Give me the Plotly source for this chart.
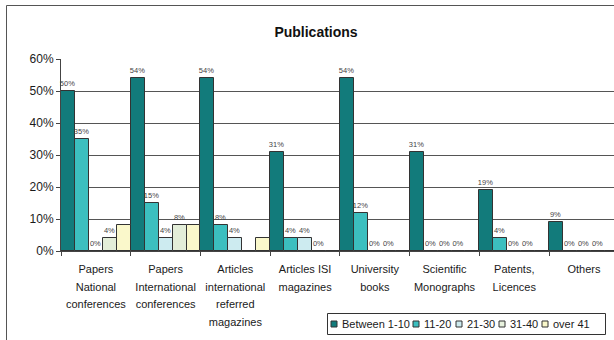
import plotly.graph_objects as go

# ---------------- data ----------------
CATEGORIES = [
    "Papers\nNational\nconferences",
    "Papers\nInternational\nconferences",
    "Articles\ninternational\nreferred\nmagazines",
    "Articles ISI\nmagazines",
    "University\nbooks",
    "Scientific\nMonographs",
    "Patents,\nLicences",
    "Others",
]
SERIES_NAMES = ["Between 1-10", "11-20", "21-30", "31-40", "over 41"]
V_1_10 = [50, 54, 54, 31, 54, 31, 19, 9]
V_11_20 = [35, 15, 8, 4, 12, 0, 4, 0]
V_21_30 = [0, 4, 4, 4, 0, 0, 0, 0]
V_31_40 = [4, 8, 0, 0, 0, 0, 0, 0]
V_OVER_41 = [8, 8, 4, 0, 0, 0, 0, 0]
# which value labels are printed in the original (1 = shown)
SHOW_1_10 = [1, 1, 1, 1, 1, 1, 1, 1]
SHOW_11_20 = [1, 1, 1, 1, 1, 1, 1, 1]
SHOW_21_30 = [1, 1, 1, 1, 1, 1, 1, 1]
SHOW_31_40 = [1, 1, 0, 1, 1, 1, 1, 1]
SHOW_OVER_41 = [0, 0, 0, 0, 0, 0, 0, 0]
Y_TICKS = [0, 10, 20, 30, 40, 50, 60]
Y_TICK_LABELS = ["0%", "10%", "20%", "30%", "40%", "50%", "60%"]
TITLE = "Publications"

# ---------------- styles ----------------
COLORS = ["#127B7B", "#3CBFBF", "#CDEBF0", "#E8F2DE", "#FAF8CB"]
OUTLINE = "#333333"
FONT = "Liberation Sans, Arial, sans-serif"

W, H = 614, 340
ML, MR, MT, MB = 61, 0, 59, 89
PW, PH = W - ML - MR, H - MT - MB


def px(x):
    return (x - ML) / PW


def py(y):
    return (H - MB - y) / PH


series_values = [V_1_10, V_11_20, V_21_30, V_31_40, V_OVER_41]
series_show = [SHOW_1_10, SHOW_11_20, SHOW_21_30, SHOW_31_40, SHOW_OVER_41]
label_font = dict(size=7.5, color="#444444", family=FONT)

fig = go.Figure()
for i, (name, vals, show) in enumerate(zip(SERIES_NAMES, series_values, series_show)):
    marker = dict(color=COLORS[i], line=dict(color=OUTLINE, width=1))
    if i == 3:
        marker["pattern"] = dict(shape=".", fgcolor="#D3E4C3", bgcolor="#EEF5E7",
                                 size=2, solidity=0.4, fillmode="replace")
    fig.add_trace(go.Bar(
        name=name,
        x=CATEGORIES,
        y=vals,
        marker=marker,
        text=[f"{v}%" if s else "" for v, s in zip(vals, show)],
        textposition="outside",
        textfont=label_font,
        outsidetextfont=label_font,
        constraintext="none",
        cliponaxis=False,
        showlegend=False,
    ))

tick_text = ["<br>".join(f"<span style='font-size:11px'>{ln}</span>" for ln in c.split("\n"))
             for c in CATEGORIES]

fig.update_layout(
    width=W, height=H,
    margin=dict(l=ML, r=MR, t=MT, b=MB, pad=0),
    paper_bgcolor="white", plot_bgcolor="white",
    barmode="group", bargap=0, bargroupgap=0,
    showlegend=False,
    font=dict(family=FONT, color="#1a1a1a"),
    title=dict(text=f"<b>{TITLE}</b>", font=dict(size=14, color="#111", family=FONT),
               x=316 / W, xanchor="center", y=1 - 32 / H, yanchor="middle",
               xref="container", yref="container"),
)
fig.update_xaxes(
    type="category", range=[-0.5, 7.43],
    tickmode="array", tickvals=CATEGORIES, ticktext=tick_text,
    tickson="boundaries", ticks="outside", ticklen=4, tickcolor="#444",
    showline=True, linecolor="#444", linewidth=1,
    showgrid=False, tickangle=0, ticklabelstandoff=5,
    tickfont=dict(size=13.5, color="#1a1a1a", family=FONT),
)
fig.update_yaxes(
    range=[0, 60], tickmode="array", tickvals=Y_TICKS, ticktext=Y_TICK_LABELS,
    ticks="outside", ticklen=4, tickcolor="#444",
    showline=True, linecolor="#444", linewidth=1,
    showgrid=True, gridcolor="#555", gridwidth=1, zeroline=False,
    tickfont=dict(size=12, color="#1a1a1a", family=FONT),
)

shapes = []
annotations = []
# outer chart frame
shapes.append(dict(type="rect", xref="paper", yref="paper",
                   x0=px(6.5), x1=px(700), y0=py(5.5), y1=py(400),
                   line=dict(color="#555", width=1), layer="below"))
# legend frame
shapes.append(dict(type="rect", xref="paper", yref="paper",
                   x0=px(327.5), x1=px(605.5), y0=py(313.5), y1=py(334.5),
                   line=dict(color="#333", width=1), fillcolor="white"))
LEGEND_TEXT_W = [67, 28, 28, 28, 37]
cur = 331
yc = 324
for i, name in enumerate(SERIES_NAMES):
    shapes.append(dict(type="rect", xref="paper", yref="paper",
                       x0=px(cur), x1=px(cur + 6), y0=py(yc - 3), y1=py(yc + 3),
                       line=dict(color="#333", width=1), fillcolor=COLORS[i]))
    annotations.append(dict(text=name, xref="paper", yref="paper",
                            x=px(cur + 9), y=py(yc), xanchor="left", yanchor="middle",
                            showarrow=False, font=dict(size=11, color="#1a1a1a", family=FONT)))
    cur += 6 + 3 + LEGEND_TEXT_W[i] + 6

fig.update_layout(shapes=shapes, annotations=annotations)
fig.write_html("out.html")
